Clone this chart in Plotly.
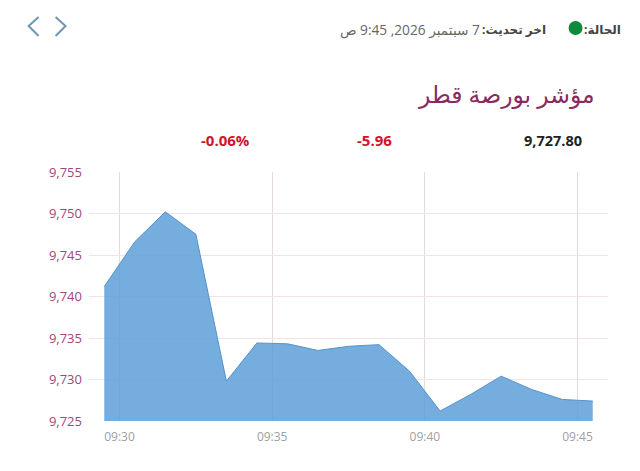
import plotly.graph_objects as go

# 5 minute ticks, the points sit on the half minute
times = ["2026-09-07 09:29:30", "2026-09-07 09:30:30", "2026-09-07 09:31:30", "2026-09-07 09:32:30",
         "2026-09-07 09:33:30", "2026-09-07 09:34:30", "2026-09-07 09:35:30", "2026-09-07 09:36:30",
         "2026-09-07 09:37:30", "2026-09-07 09:38:30", "2026-09-07 09:39:30", "2026-09-07 09:40:30",
         "2026-09-07 09:41:30", "2026-09-07 09:42:30", "2026-09-07 09:43:30", "2026-09-07 09:44:30",
         "2026-09-07 09:45:30"]
index_values = [9741.2, 9746.6, 9750.2, 9747.5, 9729.8, 9734.4, 9734.3, 9733.5,
                9734.0, 9734.2, 9731.0, 9726.2, 9728.2, 9730.4, 9728.8, 9727.6, 9727.4]
x_ticks = ["2026-09-07 09:30", "2026-09-07 09:35", "2026-09-07 09:40", "2026-09-07 09:45"]
x_tick_labels = ["09:30", "09:35", "09:40", "09:45"]
y_ticks = [9725, 9730, 9735, 9740, 9745, 9750, 9755]

W, H = 640, 471
L, R, T, B = 88.5, 31.5, 172, 50
FONT = "Open Sans, Noto Sans, DejaVu Sans, sans-serif"
RTL = "\u202b{}\u202c"  # force right to left order inside svg text


def px(x):
    return (x - L) / (W - L - R)


def py(y):
    return 1 - (y - T) / (H - T - B)


fig = go.Figure()
fig.add_trace(go.Scatter(
    x=times, y=index_values, mode="lines", fill="tozeroy",
    line=dict(color="#5593c8", width=1),
    fillcolor="rgba(91,157,216,0.84)",
    hoverinfo="x+y", showlegend=False,
))

texts = [
    (RTL.format("الحالة:"), 624, 29, 12, "#444444", True),
    (RTL.format("اخر تحديث:"), 548, 29, 12, "#444444", True),
    (RTL.format("7 سبتمبر 2026, 9:45 ص"), 482, 29, 13.7, "#666666", False),
    ("مؤشر بورصة قطر", 597, 94, 23.5, "#8a2a5c", False),
    ("9,727.80", 584, 140, 14.5, "#222222", True),
    ("-5.96", 394, 140, 15, "#d0142c", True),
    ("-0.06%", 252, 140, 15, "#d0142c", True),
]
for txt, x, y, size, color, bold in texts:
    fig.add_annotation(
        text=f"<b>{txt}</b>" if bold else txt,
        x=px(x), y=py(y), xref="paper", yref="paper",
        xanchor="right", yanchor="middle", showarrow=False,
        font=dict(family=FONT, size=size, color=color),
    )

# status dot
fig.add_shape(type="circle", xref="paper", yref="paper",
              x0=px(569), x1=px(583), y0=py(35), y1=py(21),
              fillcolor="#0f8a3c", line=dict(width=0))

# prev / next arrows
for pts in ([(38, 17), (28, 26), (38, 36)], [(55, 17), (65, 26), (55, 36)]):
    path = "M" + " L".join(f"{px(a):.4f},{py(b):.4f}" for a, b in pts)
    fig.add_shape(type="path", xref="paper", yref="paper", path=path,
                  line=dict(color="#6f94b5", width=2))

fig.update_layout(
    width=W, height=H,
    margin=dict(l=L, r=R, t=T, b=B),
    paper_bgcolor="white", plot_bgcolor="white",
    font=dict(family=FONT),
    showlegend=False,
)
fig.update_xaxes(
    type="date", range=["2026-09-07 09:29:00", "2026-09-07 09:46:00"],
    tickvals=x_ticks, ticktext=x_tick_labels,
    tickfont=dict(size=12, color="#a0a0a0"),
    ticklabelstandoff=7,
    showgrid=True, gridcolor="#e2dade", gridwidth=1,
    showline=False, zeroline=False, ticks="",
)
fig.update_yaxes(
    range=[9725, 9755], tickvals=y_ticks, tickformat=",d",
    tickfont=dict(size=13, color="#a0477c"),
    ticklabelstandoff=6,
    showgrid=True, gridcolor="#f3e3e8", gridwidth=1,
    showline=False, zeroline=False, ticks="",
)

fig.write_html("out.html", config=dict(displayModeBar=False),
               post_script="document.body.style.margin='0';")
